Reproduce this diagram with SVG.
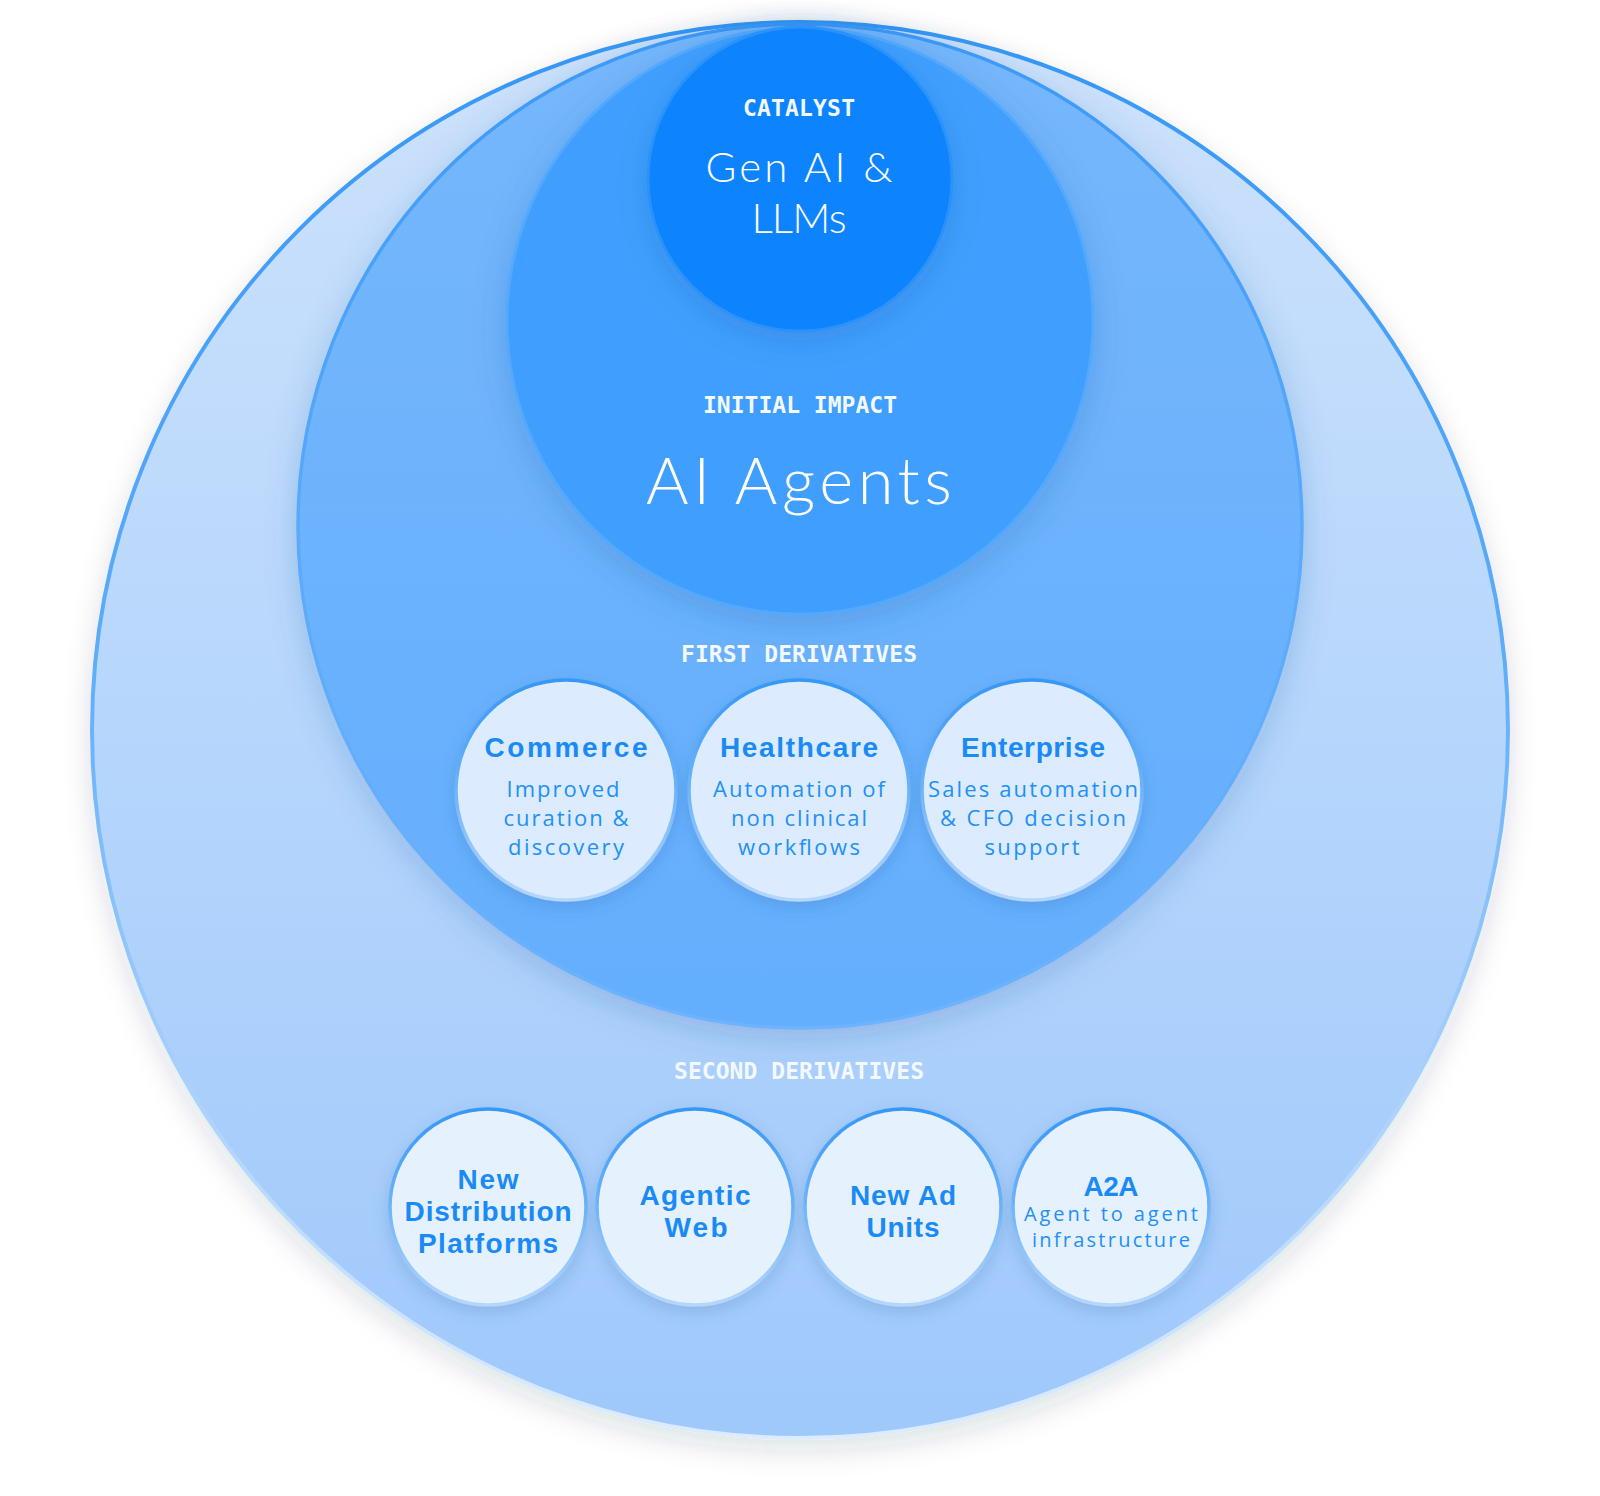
<svg xmlns="http://www.w3.org/2000/svg" width="1600" height="1496" viewBox="0 0 1600 1496">
<style>
.lbl{font-family:"DejaVu Sans Mono","Liberation Mono",monospace;font-weight:700;font-size:23px;fill:#f3f9ff;text-anchor:middle}
.big{font-family:"Lato","Open Sans","Liberation Sans",sans-serif;font-weight:300;fill:#ffffff;text-anchor:middle}
.ttl{font-family:"Liberation Sans","Arial",sans-serif;font-weight:700;font-size:28px;fill:#1a8bf6;text-anchor:middle}
.sub{font-family:"Open Sans","Noto Sans","Liberation Sans",sans-serif;font-weight:400;font-size:22px;fill:#2290f6;text-anchor:middle}
.sub2{font-family:"Open Sans","Noto Sans","Liberation Sans",sans-serif;font-weight:400;font-size:20px;fill:#2290f6;text-anchor:middle}
.small1{fill:#dcebfd;stroke:url(#gSmallStroke);stroke-width:3.5;filter:url(#shSmall)}
.small2{fill:#e6f1fe;stroke:url(#gSmallStroke);stroke-width:3.5;filter:url(#shSmall)}
</style>
<defs>
<linearGradient id="gOuterFill" x1="0" y1="0" x2="0" y2="1">
<stop offset="0" stop-color="#cde2fc"/>
<stop offset="0.5" stop-color="#b6d6fc"/>
<stop offset="1" stop-color="#9fc8fb"/>
</linearGradient>
<linearGradient id="gOuterStroke" x1="0" y1="0" x2="0" y2="1">
<stop offset="0" stop-color="#3597f7"/>
<stop offset="0.45" stop-color="#5eacf9"/>
<stop offset="0.75" stop-color="#a9d1fc"/>
<stop offset="1" stop-color="#dcecfe"/>
</linearGradient>
<linearGradient id="gSecondFill" x1="0" y1="0" x2="0" y2="1">
<stop offset="0" stop-color="#75b7fc"/>
<stop offset="1" stop-color="#64aefd"/>
</linearGradient>
<linearGradient id="gSecondStroke" x1="0" y1="0" x2="0" y2="1">
<stop offset="0" stop-color="#3a99f8"/>
<stop offset="0.5" stop-color="#5aa9fb"/>
<stop offset="1" stop-color="#6db3fd"/>
</linearGradient>
<linearGradient id="gSmallStroke" x1="0" y1="0" x2="0" y2="1">
<stop offset="0" stop-color="#3597f7"/>
<stop offset="0.5" stop-color="#6fb4fa"/>
<stop offset="1" stop-color="#b4d7fc"/>
</linearGradient>
<filter id="shOuter" x="-10%" y="-10%" width="120%" height="125%">
<feDropShadow dx="0" dy="10" stdDeviation="14" flood-color="#1c2b44" flood-opacity="0.14"/>
</filter>
<filter id="shInner" x="-15%" y="-15%" width="130%" height="135%">
<feDropShadow dx="0" dy="8" stdDeviation="16" flood-color="#24559a" flood-opacity="0.22"/>
</filter>
<filter id="shSmall" x="-20%" y="-20%" width="140%" height="145%">
<feDropShadow dx="0" dy="5" stdDeviation="8" flood-color="#24559a" flood-opacity="0.2"/>
</filter>
</defs>

<g id="second-derivatives-ring">
<circle cx="800" cy="730" r="708" fill="url(#gOuterFill)" stroke="url(#gOuterStroke)" stroke-width="4" filter="url(#shOuter)"/>
</g>

<g id="first-derivatives-ring">
<circle cx="800" cy="526" r="502" fill="url(#gSecondFill)" stroke="url(#gSecondStroke)" stroke-width="3.5" filter="url(#shInner)"/>
</g>

<g id="initial-impact">
<circle cx="800" cy="321" r="293" fill="#3f9ffe" stroke="#52a9fc" stroke-width="3" filter="url(#shInner)"/>
<text class="lbl" x="800" y="413" textLength="194" lengthAdjust="spacing">INITIAL IMPACT</text>
<text class="big" x="799" y="504" font-size="65" fill="#eaf4ff" textLength="306" lengthAdjust="spacing">AI Agents</text>
</g>

<g id="catalyst">
<circle cx="800" cy="179" r="152" fill="#0784fe" stroke="#2a92fb" stroke-width="3" filter="url(#shInner)"/>
<text class="lbl" x="799" y="116" textLength="112" lengthAdjust="spacing">CATALYST</text>
<text class="big" x="799" y="182" font-size="42" textLength="187" lengthAdjust="spacing">Gen AI &amp;</text>
<text class="big" x="799" y="233" font-size="42" textLength="95" lengthAdjust="spacing">LLMs</text>
</g>

<g id="first-derivatives-label">
<text class="lbl" x="799" y="662" textLength="236" lengthAdjust="spacing">FIRST DERIVATIVES</text>
</g>

<g id="commerce">
<circle class="small1" cx="566" cy="790" r="110"/>
<text class="ttl" x="566" y="757" textLength="163" lengthAdjust="spacing">Commerce</text>
<text class="sub" x="563" y="797" textLength="113" lengthAdjust="spacing">Improved</text>
<text class="sub" x="566" y="826" textLength="125" lengthAdjust="spacing">curation &amp;</text>
<text class="sub" x="566" y="855" textLength="116" lengthAdjust="spacing">discovery</text>
</g>

<g id="healthcare">
<circle class="small1" cx="799" cy="790" r="110"/>
<text class="ttl" x="799" y="757" textLength="158" lengthAdjust="spacing">Healthcare</text>
<text class="sub" x="799" y="797" textLength="172" lengthAdjust="spacing">Automation of</text>
<text class="sub" x="799" y="826" textLength="136" lengthAdjust="spacing">non clinical</text>
<text class="sub" x="799" y="855" textLength="122" lengthAdjust="spacing">workflows</text>
</g>

<g id="enterprise">
<circle class="small1" cx="1032" cy="790" r="110"/>
<text class="ttl" x="1033" y="757" textLength="144" lengthAdjust="spacing">Enterprise</text>
<text class="sub" x="1033" y="797" textLength="210" lengthAdjust="spacing">Sales automation</text>
<text class="sub" x="1033" y="826" textLength="186" lengthAdjust="spacing">&amp; CFO decision</text>
<text class="sub" x="1032" y="855" textLength="95" lengthAdjust="spacing">support</text>
</g>

<g id="second-derivatives-label">
<text class="lbl" x="799" y="1079" textLength="250" lengthAdjust="spacing">SECOND DERIVATIVES</text>
</g>

<g id="new-distribution-platforms">
<circle class="small2" cx="488" cy="1207" r="98"/>
<text class="ttl" x="488" y="1189" textLength="61" lengthAdjust="spacing">New</text>
<text class="ttl" x="488" y="1221" textLength="167" lengthAdjust="spacing">Distribution</text>
<text class="ttl" x="488" y="1253" textLength="140" lengthAdjust="spacing">Platforms</text>
</g>

<g id="agentic-web">
<circle class="small2" cx="695" cy="1207" r="98"/>
<text class="ttl" x="695" y="1205" textLength="111" lengthAdjust="spacing">Agentic</text>
<text class="ttl" x="696" y="1237" textLength="63" lengthAdjust="spacing">Web</text>
</g>

<g id="new-ad-units">
<circle class="small2" cx="903" cy="1207" r="98"/>
<text class="ttl" x="903" y="1205" textLength="106" lengthAdjust="spacing">New Ad</text>
<text class="ttl" x="903" y="1237" textLength="73" lengthAdjust="spacing">Units</text>
</g>

<g id="a2a">
<circle class="small2" cx="1111" cy="1207" r="98"/>
<text class="ttl" x="1111" y="1196" font-size="27" textLength="55" lengthAdjust="spacing">A2A</text>
<text class="sub2" x="1111" y="1221" textLength="174" lengthAdjust="spacing">Agent to agent</text>
<text class="sub2" x="1111" y="1247" textLength="158" lengthAdjust="spacing">infrastructure</text>
</g>
</svg>
